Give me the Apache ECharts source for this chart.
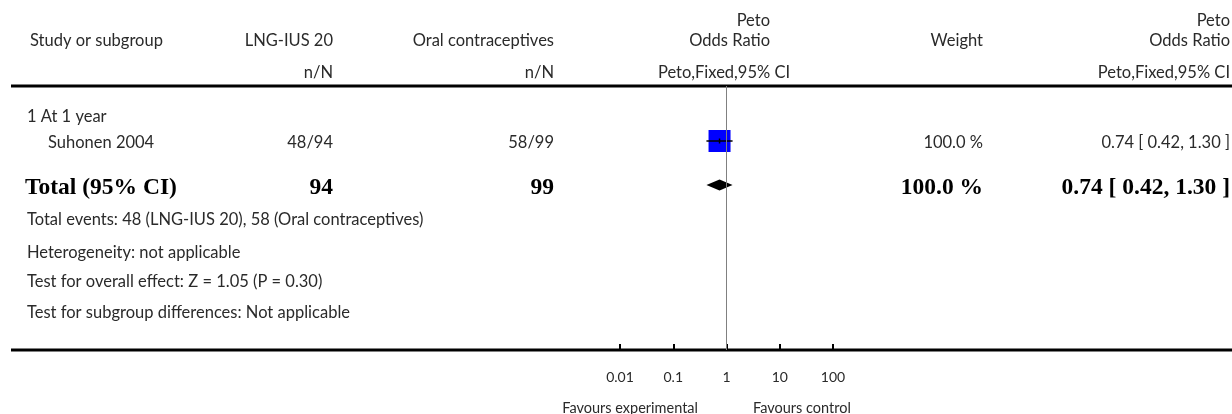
<!DOCTYPE html>
<html>
<head>
<meta charset="utf-8">
<script src="https://cdn.jsdelivr.net/npm/echarts@6/dist/echarts.min.js"></script>
<style>
  html, body { margin: 0; padding: 0; background: #fff; }
  #chart { width: 1232px; height: 414px; }
</style>
</head>
<body>
<div id="chart"></div>
<script>
// data
const studyNames = ['Suhonen 2004'];
const expEvents = [48];
const expTotal = [94];
const ctlEvents = [58];
const ctlTotal = [99];
const oddsRatio = [0.74];
const ciLow = [0.42];
const ciHigh = [1.30];
const weights = [100.0];

const pooledOR = 0.74;
const pooledLow = 0.42;
const pooledHigh = 1.30;

const tickValues = [0.01, 0.1, 1, 10, 100];
const tickLabels = ['0.01', '0.1', '1', '10', '100'];

const footnotes = [
  'Total events: 48 (LNG-IUS 20), 58 (Oral contraceptives)',
  'Heterogeneity: not applicable',
  'Test for overall effect: Z = 1.05 (P = 0.30)',
  'Test for subgroup differences: Not applicable'
];

// layout
const SANS = '"Lato", "Open Sans", sans-serif';
const SERIF = '"Liberation Serif", "DejaVu Serif", serif';
const ROW_STUDY = 2.5;
const ROW_TOTAL = 4.5;
const COL_EXP = 333, COL_CTL = 554, COL_W = 983, COL_OR = 1230;

const chart = echarts.init(document.getElementById('chart'), null, { renderer: 'canvas' });

function txt(text, x, y, align, opts) {
  opts = opts || {};
  return {
    type: 'text',
    x: x, y: y,
    silent: true,
    style: {
      text: text,
      textAlign: align || 'left',
      textVerticalAlign: 'middle',
      fill: opts.color || '#2a2a2a',
      font: opts.font || ('16.5px ' + SANS)
    }
  };
}
const boldFont = 'bold 23.5px ' + SERIF;
const smallFont = '14.5px ' + SANS;
const fmtCI = (o, l, h) => o.toFixed(2) + ' [ ' + l.toFixed(2) + ', ' + h.toFixed(2) + ' ]';

const graphics = [
  // header
  txt('Study or subgroup', 30, 41),
  txt('LNG-IUS 20', COL_EXP, 41, 'right'),
  txt('n/N', COL_EXP, 73, 'right'),
  txt('Oral contraceptives', COL_CTL, 41, 'right'),
  txt('n/N', COL_CTL, 73, 'right'),
  txt('Peto', 770, 21, 'right'),
  txt('Odds Ratio', 770, 41, 'right'),
  txt('Peto,Fixed,95% CI', 724, 73, 'center'),
  txt('Weight', COL_W, 41, 'right'),
  txt('Peto', COL_OR, 21, 'right'),
  txt('Odds Ratio', COL_OR, 41, 'right'),
  txt('Peto,Fixed,95% CI', COL_OR, 73, 'right'),
  { type: 'line', silent: true, shape: { x1: 11, y1: 86, x2: 1232, y2: 86 }, style: { stroke: '#000', lineWidth: 3 } },
  // subgroup
  txt('1 At 1 year', 27, 117)
];

studyNames.forEach((name, i) => {
  graphics.push(
    txt(name, 48, 143),
    txt(expEvents[i] + '/' + expTotal[i], COL_EXP, 143, 'right'),
    txt(ctlEvents[i] + '/' + ctlTotal[i], COL_CTL, 143, 'right'),
    txt(weights[i].toFixed(1) + ' %', COL_W, 143, 'right'),
    txt(fmtCI(oddsRatio[i], ciLow[i], ciHigh[i]), COL_OR, 143, 'right')
  );
});

const sumExp = expTotal.reduce((a, b) => a + b, 0);
const sumCtl = ctlTotal.reduce((a, b) => a + b, 0);
const sumW = weights.reduce((a, b) => a + b, 0);
graphics.push(
  txt('Total (95% CI)', 25, 188, 'left', { font: boldFont, color: '#000' }),
  txt(String(sumExp), COL_EXP, 188, 'right', { font: boldFont, color: '#000' }),
  txt(String(sumCtl), COL_CTL, 188, 'right', { font: boldFont, color: '#000' }),
  txt(sumW.toFixed(1) + ' %', COL_W, 188, 'right', { font: boldFont, color: '#000' }),
  txt(fmtCI(pooledOR, pooledLow, pooledHigh), COL_OR, 188, 'right', { font: boldFont, color: '#000' })
);

const footY = [220, 253, 282, 313];
footnotes.forEach((t, i) => graphics.push(txt(t, 27, footY[i])));

graphics.push(
  { type: 'line', silent: true, shape: { x1: 11, y1: 350, x2: 1232, y2: 350 }, style: { stroke: '#000', lineWidth: 3 } },
  txt('Favours experimental', 698, 408, 'right', { font: smallFont }),
  txt('Favours control', 753, 408, 'left', { font: smallFont })
);

const studyData = studyNames.map((n, i) => [oddsRatio[i], ciLow[i], ciHigh[i], ROW_STUDY, weights[i]]);

chart.setOption({
  animation: false,
  grid: { left: 620, right: 399, top: 86, bottom: 64 },
  xAxis: {
    type: 'log',
    logBase: 10,
    position: 'bottom',
    min: tickValues[0],
    max: tickValues[tickValues.length - 1],
    axisLine: { show: false, onZero: false },
    axisTick: { show: true, inside: true, length: 6, lineStyle: { color: '#000', width: 2 } },
    splitLine: { show: false },
    axisLabel: {
      margin: 20,
      fontFamily: SANS,
      fontSize: 14,
      color: '#2a2a2a',
      formatter: v => {
        const k = tickValues.findIndex(t => Math.abs(Math.log10(t) - Math.log10(v)) < 1e-6);
        return k >= 0 ? tickLabels[k] : '';
      }
    }
  },
  yAxis: { type: 'value', min: 0, max: 12, inverse: true, show: false },
  series: [
    {
      type: 'custom',
      name: 'studies',
      data: studyData,
      renderItem: (params, api) => {
        const c = api.coord([api.value(0), api.value(3)]);
        const lo = api.coord([api.value(1), api.value(3)]);
        const hi = api.coord([api.value(2), api.value(3)]);
        const side = 22 * Math.sqrt(api.value(4) / 100);
        return {
          type: 'group',
          children: [
            { type: 'rect', shape: { x: c[0] - side / 2, y: c[1] - side / 2, width: side, height: side }, style: { fill: '#0000ff' } },
            { type: 'line', shape: { x1: lo[0], y1: c[1], x2: hi[0], y2: c[1] }, style: { stroke: '#000', lineWidth: 1.5 } },
            { type: 'line', shape: { x1: c[0], y1: c[1] - 2.5, x2: c[0], y2: c[1] + 2.5 }, style: { stroke: '#000', lineWidth: 1.5 } }
          ]
        };
      },
      markLine: {
        silent: true,
        symbol: 'none',
        label: { show: false },
        lineStyle: { color: '#808080', width: 1, type: 'solid' },
        data: [{ xAxis: 1 }]
      },
      z: 3
    },
    {
      type: 'custom',
      name: 'total',
      data: [[pooledOR, pooledLow, pooledHigh, ROW_TOTAL]],
      renderItem: (params, api) => {
        const c = api.coord([api.value(0), api.value(3)]);
        const lo = api.coord([api.value(1), api.value(3)]);
        const hi = api.coord([api.value(2), api.value(3)]);
        const h = 5.5;
        return {
          type: 'polygon',
          shape: { points: [[lo[0], c[1]], [c[0], c[1] - h], [hi[0], c[1]], [c[0], c[1] + h]] },
          style: { fill: '#000' }
        };
      },
      z: 3
    }
  ],
  graphic: graphics
});
</script>
</body>
</html>
